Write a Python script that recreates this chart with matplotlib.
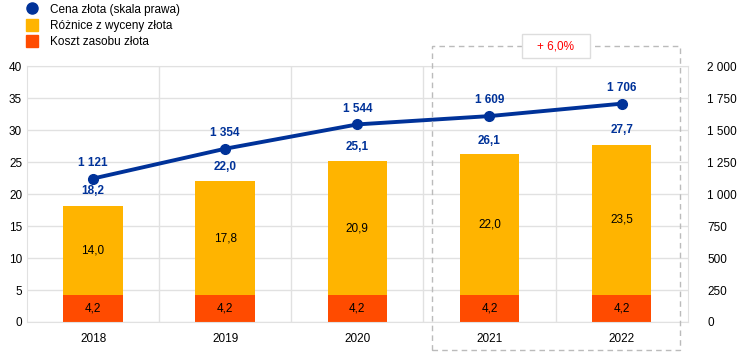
import matplotlib.pyplot as plt
import matplotlib.patches as patches
from matplotlib.lines import Line2D
import numpy as np

plt.rcParams['font.family'] = ['Liberation Sans', 'DejaVu Sans']

years = ["2018", "2019", "2020", "2021", "2022"]
koszt = [4.2, 4.2, 4.2, 4.2, 4.2]
roznice = [14.0, 17.8, 20.9, 22.0, 23.5]
totals = [18.2, 22.0, 25.1, 26.1, 27.7]
cena = [1121, 1354, 1544, 1609, 1706]

BLUE = "#003299"
YELLOW = "#FFB400"
ORANGE = "#FF4B00"
GRID = "#E1E1E1"

def pl(v, d=1):
    return f"{v:.{d}f}".replace(".", ",")

def thousands(v):
    return f"{int(v):,}".replace(",", " ")

fig = plt.figure(figsize=(7.44, 3.54), dpi=100)
ax = fig.add_axes([0.0363, 0.0904, 0.888, 0.723])
x = np.arange(len(years))
w = 0.45

ax.bar(x, koszt, w, color=ORANGE, zorder=2)
ax.bar(x, roznice, w, bottom=koszt, color=YELLOW, zorder=2)

for i in range(len(years)):
    ax.text(x[i], koszt[i] / 2, pl(koszt[i]), ha="center", va="center", fontsize=8.5, zorder=3)
    ax.text(x[i], koszt[i] + roznice[i] / 2, pl(roznice[i]), ha="center", va="center", fontsize=8.5, zorder=3)
    ax.annotate(pl(totals[i]), (x[i], totals[i]), xytext=(0, 6), textcoords="offset points",
                ha="center", va="bottom", fontsize=8.5, color=BLUE, fontweight="bold", zorder=3)

ax.set_xlim(-0.5, len(years) - 0.5)
ax.set_ylim(0, 40)
ax.set_yticks(range(0, 41, 5))
ax.set_xticks(x)
ax.set_xticklabels(years)
ax.set_xticks(np.arange(0.5, len(years) - 1, 1), minor=True)
ax.grid(axis="y", color=GRID, lw=1, zorder=0)
ax.grid(axis="x", which="minor", color=GRID, lw=1, zorder=0)
ax.tick_params(which="both", length=0, labelsize=8.5)
ax.tick_params(axis="x", pad=8)
for s in ax.spines.values():
    s.set_color(GRID)

ax2 = ax.twinx()
ax2.plot(x, cena, color=BLUE, lw=2.8, marker="o", ms=7, zorder=4)
for i in range(len(years)):
    ax2.annotate(thousands(cena[i]), (x[i], cena[i]), xytext=(0, 7), textcoords="offset points",
                 ha="center", va="bottom", fontsize=8.5, color=BLUE, fontweight="bold")
ax2.set_ylim(0, 2000)
ax2.set_yticks(range(0, 2001, 250))
ax2.set_yticklabels([thousands(v) for v in range(0, 2001, 250)])
ax2.tick_params(length=0, labelsize=8.5, pad=14)
for s in ax2.spines.values():
    s.set_visible(False)

# dashed box around 2021-2022
fig.patches.append(patches.Rectangle((0.5806, 0.0113), 0.333, 0.859, transform=fig.transFigure,
                                     fill=False, ls=(0, (4, 3)), ec="#BBBBBB", lw=1))
fig.patches.append(patches.Rectangle((0.7016, 0.836), 0.0914, 0.068, transform=fig.transFigure,
                                     fc="white", ec="#DDDDDD", lw=1, zorder=5))
fig.text(0.7473, 0.870, "+ 6,0%", ha="center", va="center", color="red", fontsize=8.5, zorder=6)

handles = [
    Line2D([], [], marker="o", color=BLUE, ls="none", ms=8),
    Line2D([], [], marker="s", color=YELLOW, ls="none", ms=8),
    Line2D([], [], marker="s", color=ORANGE, ls="none", ms=8),
]
labels = ["Cena złota (skala prawa)", "Różnice z wyceny złota", "Koszt zasobu złota"]
fig.legend(handles, labels, loc="upper left", bbox_to_anchor=(0.017, 1.02), frameon=False,
           fontsize=8.5, handletextpad=0.8, labelspacing=0.35, handlelength=1.5)

fig.savefig("out.png", dpi=100)
